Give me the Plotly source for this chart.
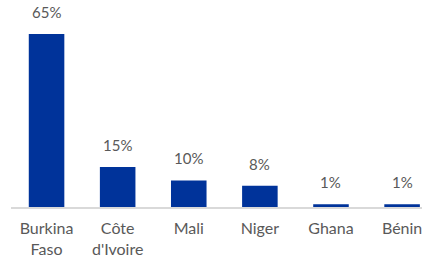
import plotly.graph_objects as go

categories = ["Burkina<br>Faso", "Côte<br>d'Ivoire", "Mali", "Niger", "Ghana", "Bénin"]
values = [65, 15, 10, 8, 1, 1]
labels = ["65%", "15%", "10%", "8%", "1%", "1%"]

bar_color = "#00339A"
text_color = "#595959"
font_family = "Lato, 'Open Sans', sans-serif"

fig = go.Figure()
fig.add_trace(go.Bar(
    x=list(range(len(categories))),
    y=values,
    width=0.5,
    marker=dict(color=bar_color, line=dict(width=0)),
    hoverinfo="skip",
))

for i, (v, t) in enumerate(zip(values, labels)):
    fig.add_annotation(
        x=i, y=v, text=t, showarrow=False,
        yanchor="bottom", yshift=11,
        font=dict(family=font_family, size=15, color=text_color),
    )

fig.update_layout(
    width=422, height=259,
    margin=dict(l=11, r=0, t=0, b=52, autoexpand=False),
    paper_bgcolor="white", plot_bgcolor="white",
    showlegend=False,
    font=dict(family=font_family, size=16, color=text_color),
    xaxis=dict(
        tickmode="array",
        tickvals=list(range(len(categories))),
        ticktext=categories,
        range=[-0.5, 5.28],
        automargin=False,
        ticklabeloverflow="allow",
        ticklabelstandoff=6,
        showline=True, linecolor="#D9D9D9", linewidth=1.5,
        showgrid=False, zeroline=False, ticks="",
        tickfont=dict(family=font_family, size=16, color=text_color),
    ),
    yaxis=dict(
        range=[0, 77.8],
        visible=False, showgrid=False, zeroline=False,
        automargin=False,
    ),
)

fig.write_html(
    "out.html",
    config={"displayModeBar": False},
    post_script="document.body.style.margin='0';document.body.style.overflow='hidden';",
)
